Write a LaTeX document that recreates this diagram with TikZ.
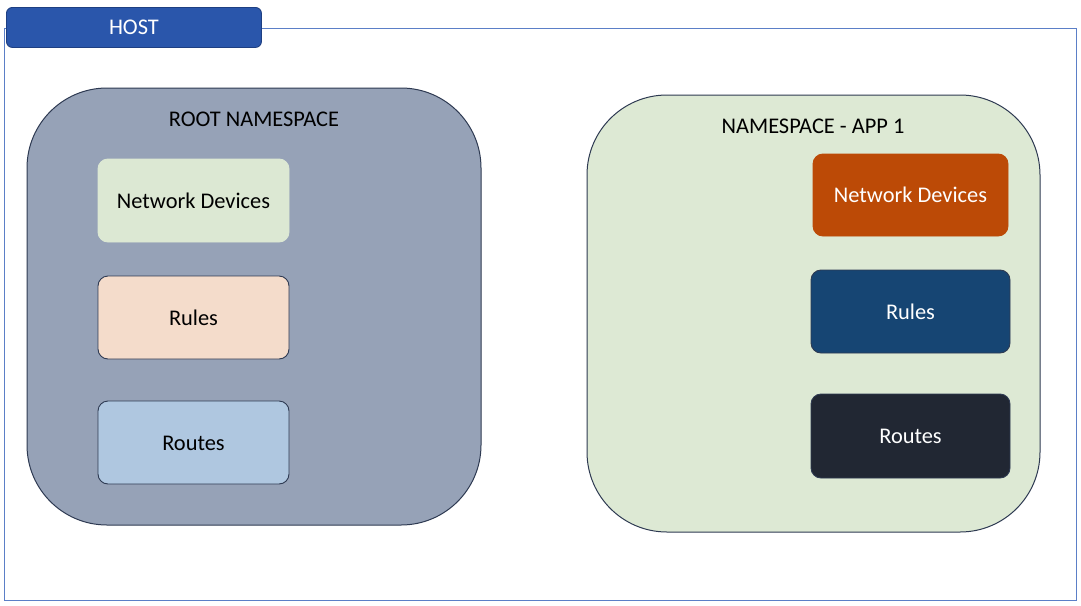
\documentclass[tikz,border=0pt]{standalone}
\usepackage{fontspec}
\setmainfont{Carlito}
\definecolor{hostblue}{HTML}{2A56AB}
\definecolor{hostedge}{HTML}{1E3F82}
\definecolor{frameblue}{HTML}{5B7FC7}
\definecolor{rootfill}{HTML}{96A2B7}
\definecolor{nsedge}{HTML}{2E3A52}
\definecolor{appfill}{HTML}{DDE9D4}
\definecolor{ndgreen}{HTML}{DCE8D3}
\definecolor{rulespeach}{HTML}{F4DCCB}
\definecolor{routesblue}{HTML}{AFC7E0}
\definecolor{ndorange}{HTML}{BC4A06}
\definecolor{rulesnavy}{HTML}{164573}
\definecolor{routesdark}{HTML}{212733}
\begin{document}
\begin{tikzpicture}[x=1pt,y=-1pt,
  nsbox/.style={draw=nsedge, line width=1pt, rounded corners=80pt},
  itembox/.style={rounded corners=10pt, line width=0.9pt},
  lbl/.style={font=\fontsize{22.4}{26}\selectfont, text=black},
  wlbl/.style={font=\fontsize{22.4}{26}\selectfont, text=white}]
\useasboundingbox (0,0) rectangle (1081,605);
\fill[white] (0,0) rectangle (1081,605);
% host frame
\draw[frameblue, line width=0.9pt] (4,28) rectangle (1076,600);
\node[draw=hostedge, fill=hostblue, rounded corners=6pt, line width=0.9pt,
  minimum width=255pt, minimum height=40pt, anchor=north west, inner sep=0pt,
  text=white, font=\fontsize{22.4}{26}\selectfont] (host) at (6,7) {HOST};
% root namespace
\draw[nsbox, fill=rootfill] (27,88) rectangle (481,525);
\node[lbl] (roott) at (254,119) {ROOT NAMESPACE};
\draw[itembox, fill=ndgreen, draw=ndgreen] (98,159) rectangle (289,242);
\node[lbl] (lnd) at (193.5,201) {Network Devices};
\draw[itembox, fill=rulespeach, draw=nsedge] (98,276) rectangle (289,359);
\node[lbl] (lrules) at (193.5,318) {Rules};
\draw[itembox, fill=routesblue, draw=nsedge] (98,401) rectangle (289,484);
\node[lbl] (lroutes) at (193.5,443) {Routes};
% app namespace
\draw[nsbox, fill=appfill] (587,95) rectangle (1040,532);
\node[lbl] (appt) at (813,126) {NAMESPACE - APP 1};
\draw[itembox, fill=ndorange, draw=ndorange] (813,154) rectangle (1008,236);
\node[wlbl] (rnd) at (910.5,195) {Network Devices};
\draw[itembox, fill=rulesnavy, draw=nsedge] (811,270) rectangle (1010,353);
\node[wlbl] (rrules) at (910.5,312) {Rules};
\draw[itembox, fill=routesdark, draw=nsedge] (811,394) rectangle (1010,478);
\node[wlbl] (rroutes) at (910.5,436) {Routes};
\end{tikzpicture}
\end{document}
